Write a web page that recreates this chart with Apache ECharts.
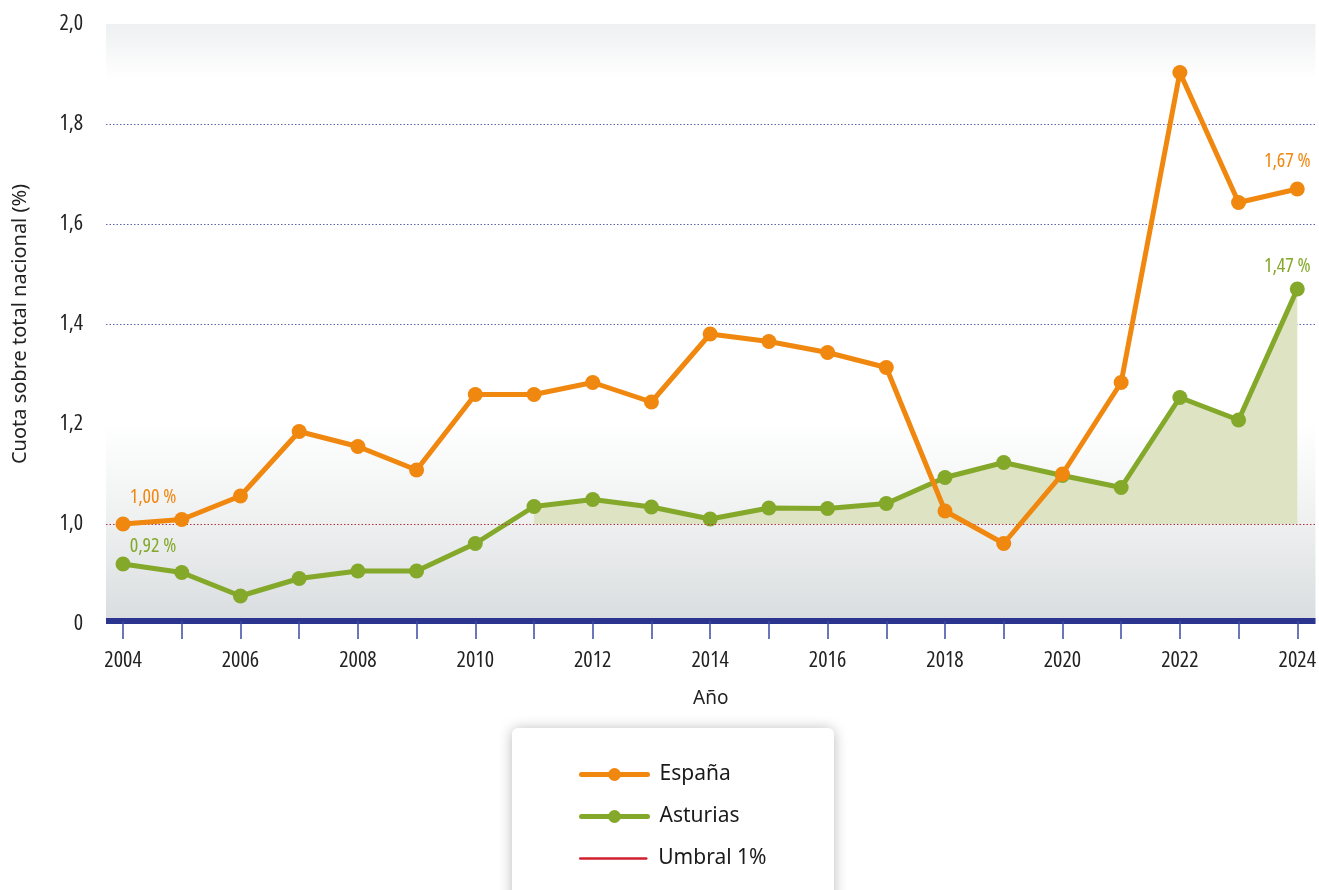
<!DOCTYPE html>
<html>
<head>
<meta charset="utf-8">
<script src="https://cdn.jsdelivr.net/npm/echarts@6/dist/echarts.min.js"></script>
<style>
	html, body { margin: 0; padding: 0; background: #fff; overflow: hidden; }
	#chart { width: 1319px; height: 890px; }
</style>
</head>
<body>
<div id="chart"></div>
<script>
// values
const years = [2004, 2005, 2006, 2007, 2008, 2009, 2010, 2011, 2012, 2013, 2014,
	2015, 2016, 2017, 2018, 2019, 2020, 2021, 2022, 2023, 2024];
const espana = [1.00, 1.009, 1.056, 1.185, 1.155, 1.108, 1.259, 1.259, 1.283, 1.244, 1.38,
	1.365, 1.343, 1.313, 1.026, 0.961, 1.10, 1.283, 1.903, 1.643, 1.67];
const asturias = [0.92, 0.903, 0.856, 0.891, 0.906, 0.906, 0.961, 1.035, 1.049, 1.034, 1.01,
	1.032, 1.031, 1.041, 1.093, 1.123, 1.097, 1.073, 1.253, 1.208, 1.47];
const yTicks = [0.8, 1.0, 1.2, 1.4, 1.6, 1.8, 2.0];   // bottom tick is shown as "0" (broken axis)
const xLabelYears = [2004, 2006, 2008, 2010, 2012, 2014, 2016, 2018, 2020, 2022, 2024];
const UMBRAL = 1.0;
const FILL_FROM = 2011;

const ORANGE = '#f0870f', GREEN = '#84a82a', NAVY = '#2b3590', RED = '#d0202e';
const NARROW = "'Open Sans', 'Roboto', sans-serif";
const NARROW_W = 'condensed';   // goes into the canvas font shorthand as font-stretch
const SANS = "'Noto Sans', 'Open Sans', sans-serif";

const fmt = v => v.toFixed(2).replace('.', ',') + ' %';

// only the first and last points carry a value label
function labelled(values, color, offFirst, offLast) {
	return values.map((v, i) => {
		let item = { value: [years[i], v] };
		if (i === 0 || i === values.length - 1) {
			item.label = {
				show: true, position: 'top', color,
				fontFamily: NARROW, fontWeight: NARROW_W, fontSize: 20,
				offset: i === 0 ? offFirst : offLast,
				formatter: p => fmt(p.value[1])
			};
		}
		return item;
	});
}

function legendRow(name, top, lineWidth, hideSymbol) {
	let item = { name };
	if (hideSymbol) item.itemStyle = { opacity: 0 };
	return {
		orient: 'vertical', left: 579, top, padding: 0, z: 20,
		data: [item],
		itemWidth: 66, itemHeight: 16,
		lineStyle: { width: lineWidth, cap: 'round' },
		textStyle: { fontFamily: SANS, fontSize: 21, color: '#1a1a1a', padding: [0, 0, 0, 7] }
	};
}

let chart = echarts.init(document.getElementById('chart'), null, { renderer: 'canvas' });

chart.setOption({
	animation: false,
	grid: { left: 106, right: 3, top: 24, height: 600 },
	xAxis: {
		type: 'value', min: 2003.71, max: 2024.31,
		offset: -3, z: 3,
		name: 'Año', nameLocation: 'middle', nameGap: 68,
		nameTextStyle: { fontFamily: SANS, fontSize: 19, color: '#222' },
		axisLine: { show: true, onZero: false, lineStyle: { color: NAVY, width: 6, cap: 'butt' } },
		axisTick: { show: true, length: 18, customValues: years, lineStyle: { color: '#3b4aa6', width: 1.5 } },
		axisLabel: {
			customValues: xLabelYears, margin: 29,
			fontFamily: NARROW, fontWeight: NARROW_W, fontSize: 22, color: '#222',
			formatter: v => String(v)
		},
		splitLine: { show: false }
	},
	yAxis: {
		type: 'value', min: 0.8, max: 2.0,
		name: 'Cuota sobre total nacional (%)', nameLocation: 'middle', nameGap: 76,
		nameTextStyle: { fontFamily: SANS, fontSize: 20, color: '#222' },
		axisLine: { show: false }, axisTick: { show: false },
		axisLabel: {
			customValues: yTicks, margin: 23,
			fontFamily: NARROW, fontWeight: NARROW_W, fontSize: 22, color: '#222',
			formatter: v => Math.abs(v - 0.8) < 1e-6 ? '0' : v.toFixed(1).replace('.', ',')
		},
		splitLine: { show: true, showMinLine: false, lineStyle: { color: '#5f63b0', width: 1.2, type: [1.5, 2] } }
	},
	graphic: [{
		// legend box
		type: 'rect', left: 512, top: 728, z: 1,
		shape: { width: 322, height: 190, r: 6 },
		style: { fill: '#fff', shadowBlur: 14, shadowColor: 'rgba(0,0,0,0.28)', shadowOffsetY: 1 }
	}],
	legend: [
		legendRow('España', 764, 5, false),
		legendRow('Asturias', 806, 5, false),
		legendRow('Umbral 1%', 848, 2.5, true)
	],
	series: [
		{
			// background bands of the plot area
			name: 'fondo', type: 'line', data: [], silent: true, z: -1,
			markArea: {
				silent: true,
				data: [
					[{ yAxis: 1.89, itemStyle: { color: { type: 'linear', x: 0, y: 0, x2: 0, y2: 1,
						colorStops: [{ offset: 0, color: '#eef0f1' }, { offset: 1, color: '#ffffff' }] } } },
					 { yAxis: 2.0 }],
					[{ yAxis: 0.8, itemStyle: { color: { type: 'linear', x: 0, y: 0, x2: 0, y2: 1,
						colorStops: [{ offset: 0, color: '#ffffff' }, { offset: 0.5, color: '#eef0f0' }, { offset: 1, color: '#d9dcdf' }] } } },
					 { yAxis: 1.2 }]
				]
			}
		},
		{
			// shaded area of Asturias above the 1 % threshold
			name: 'relleno', type: 'line', silent: true, z: 1,
			data: years.map((y, i) => [y, asturias[i]]).filter(d => d[0] >= FILL_FROM),
			symbol: 'none', lineStyle: { opacity: 0 },
			areaStyle: { origin: UMBRAL, color: '#dde3c3', opacity: 1 }
		},
		{
			name: 'Umbral 1%', type: 'line', data: [], symbol: 'none', z: 2,
			itemStyle: { color: RED }, lineStyle: { color: RED, width: 2.5 },
			markLine: {
				silent: true, symbol: 'none', label: { show: false },
				lineStyle: { color: '#b5304f', width: 1.2, type: [1.5, 2] },
				data: [{ yAxis: UMBRAL }]
			}
		},
		{
			name: 'Asturias', type: 'line', z: 4,
			data: labelled(asturias, GREEN, [30, 5], [-10, 0]),
			symbol: 'circle', symbolSize: 15,
			itemStyle: { color: GREEN }, lineStyle: { color: GREEN, width: 5 }
		},
		{
			name: 'España', type: 'line', z: 5,
			data: labelled(espana, ORANGE, [30, -4], [-10, -5]),
			symbol: 'circle', symbolSize: 15,
			itemStyle: { color: ORANGE }, lineStyle: { color: ORANGE, width: 5 }
		}
	]
});
</script>
</body>
</html>
